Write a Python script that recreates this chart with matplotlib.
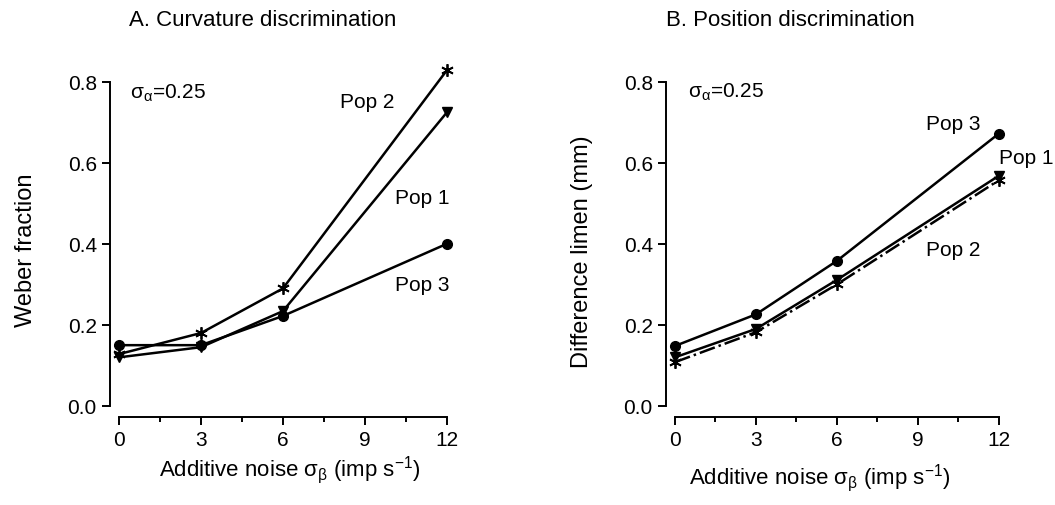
import matplotlib
matplotlib.use("Agg")
import matplotlib.pyplot as plt
from matplotlib.ticker import MultipleLocator

plt.rcParams['font.family'] = ['Liberation Sans', 'DejaVu Sans']
plt.rcParams['axes.unicode_minus'] = False

noise = [0, 3, 6, 12]

# A. curvature discrimination (Weber fraction)
curv_pop1 = [0.12, 0.145, 0.234, 0.724]
curv_pop2 = [0.128, 0.18, 0.29, 0.828]
curv_pop3 = [0.15, 0.15, 0.222, 0.40]

# B. position discrimination (difference limen, mm)
pos_pop1 = [0.12, 0.19, 0.311, 0.568]
pos_pop2 = [0.108, 0.182, 0.30, 0.557]
pos_pop3 = [0.148, 0.226, 0.358, 0.672]

ticks_x = [0, 3, 6, 9, 12]
ticks_y = [0.0, 0.2, 0.4, 0.6, 0.8]


def style_axes(ax):
    ax.set_xlim(-0.33, 12.3)
    ax.set_ylim(0, 0.85)
    for s in ['top', 'right']:
        ax.spines[s].set_visible(False)
    ax.spines['left'].set_bounds(0, 0.8)
    ax.spines['bottom'].set_bounds(0, 12)
    ax.spines['bottom'].set_position(('outward', 8))
    for s in ['left', 'bottom']:
        ax.spines[s].set_linewidth(1.4)
    ax.set_xticks(ticks_x)
    ax.set_yticks(ticks_y)
    ax.set_yticklabels(['%.1f' % v for v in ticks_y])
    ax.xaxis.set_minor_locator(MultipleLocator(1.5))
    ax.tick_params(axis='both', which='major', labelsize=15, length=6, width=1.4)
    ax.tick_params(axis='x', which='minor', length=3.5, width=1.4)
    ax.set_facecolor('none')


fig = plt.figure(figsize=(10.55, 5.06), dpi=100)
axA = fig.add_axes([0.1043, 0.1957, 0.327, 0.681])
axB = fig.add_axes([0.6313, 0.1957, 0.3232, 0.681])

star = (6, 2, 0)
lw = 1.8
sig_a = 'σ$_\\mathregular{α}$=0.25'

axA.plot(noise, curv_pop3, '-', color='black', lw=lw, marker='o', ms=7)
axA.plot(noise, curv_pop1, '-', color='black', lw=lw, marker='v', ms=7)
axA.plot(noise, curv_pop2, '-', color='black', lw=lw, marker=star, ms=9, mew=1.3)
axA.text(0.4, 0.773, sig_a, fontsize=15, va='center')
axA.text(8.1, 0.75, 'Pop 2', fontsize=15, va='center')
axA.text(10.1, 0.515, 'Pop 1', fontsize=15, va='center')
axA.text(10.1, 0.30, 'Pop 3', fontsize=15, va='center')
style_axes(axA)

axB.plot(noise, pos_pop3, '-', color='black', lw=lw, marker='o', ms=7)
axB.plot(noise, pos_pop1, '-', color='black', lw=lw, marker='v', ms=7)
axB.plot(noise, pos_pop2, '-.', color='black', lw=lw, marker=star, ms=9, mew=1.3)
axB.text(0.48, 0.776, sig_a, fontsize=15, va='center')
axB.text(9.3, 0.697, 'Pop 3', fontsize=15, va='center')
axB.text(12.0, 0.613, 'Pop 1', fontsize=15, va='center', clip_on=False)
axB.text(9.3, 0.387, 'Pop 2', fontsize=15, va='center')
style_axes(axB)

fig.text(263 / 1055, 1 - 20 / 506, 'A. Curvature discrimination', fontsize=16, ha='center', va='center')
fig.text(790 / 1055, 1 - 20 / 506, 'B. Position discrimination', fontsize=16, ha='center', va='center')
fig.text(26 / 1055, 1 - 250 / 506, 'Weber fraction', fontsize=17, rotation=90, ha='center', va='center')
fig.text(582 / 1055, 1 - 252 / 506, 'Difference limen (mm)', fontsize=17, rotation=90, ha='center', va='center')
xlab = 'Additive noise σ$_\\mathregular{β}$ (imp s$^\\mathregular{-1}$)'
fig.text(290 / 1055, 1 - 470 / 506, xlab, fontsize=16, ha='center', va='center')
fig.text(820 / 1055, 1 - 478 / 506, xlab, fontsize=16, ha='center', va='center')

fig.savefig('out.png', dpi=100, facecolor='white')
